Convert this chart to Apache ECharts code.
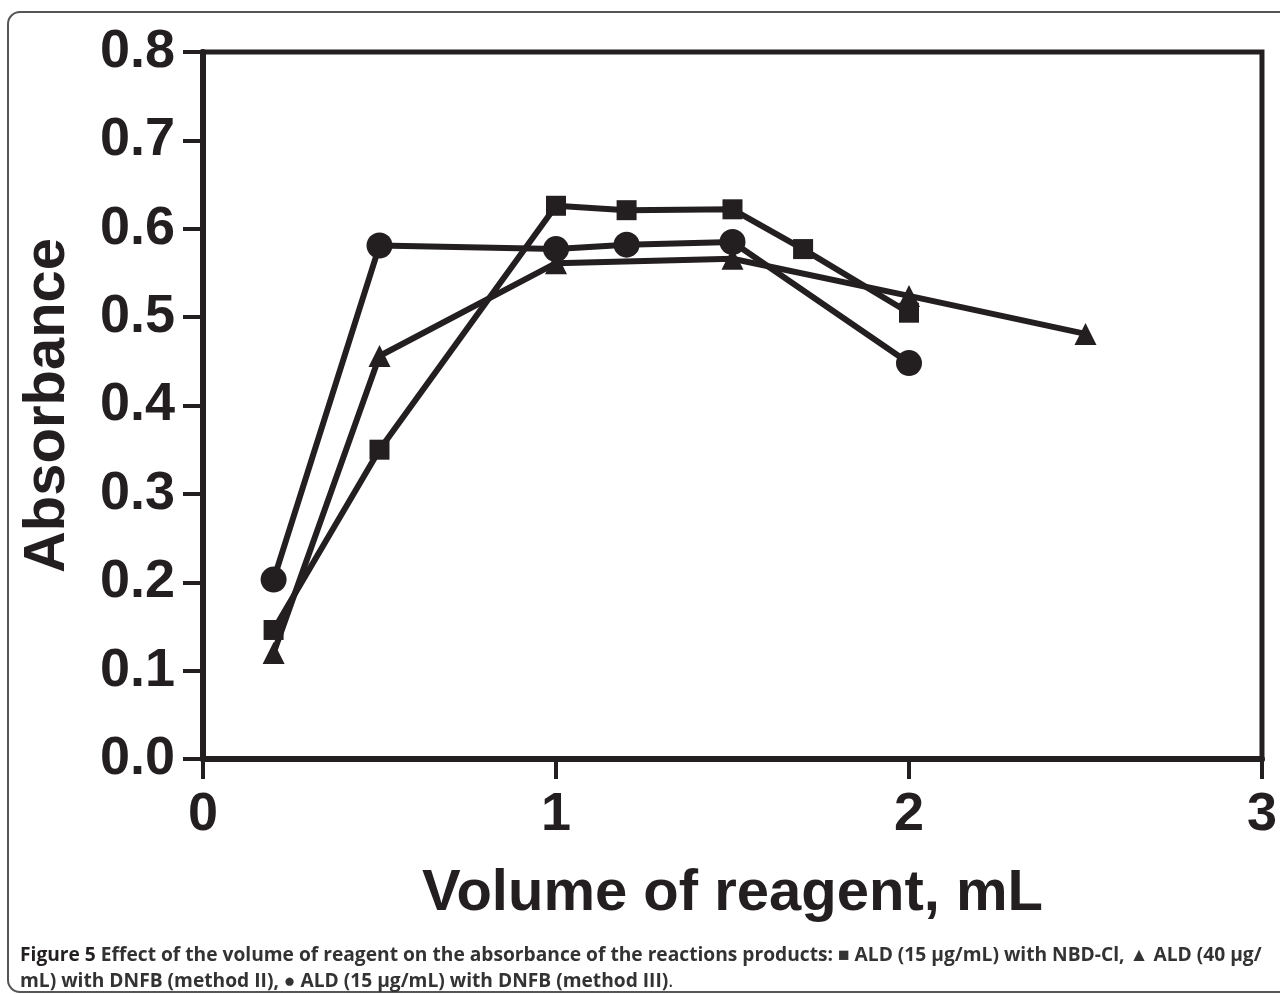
<!DOCTYPE html>
<html>
<head>
<meta charset="utf-8">
<script src="https://cdn.jsdelivr.net/npm/echarts@6/dist/echarts.min.js"></script>
<style>
html,body{margin:0;padding:0;background:#fff;}
#chart{width:1280px;height:994px;}
</style>
</head>
<body>
<div id="chart"></div>
<script>
// ---- data ----
const xTicks = [0, 1, 2, 3];
const yTicks = [0.0, 0.1, 0.2, 0.3, 0.4, 0.5, 0.6, 0.7, 0.8];

// ALD (15 µg/mL) with NBD-Cl  (squares)
const nbdX = [0.2, 0.5, 1.0, 1.2, 1.5, 1.7, 2.0];
const nbdY = [0.146, 0.350, 0.626, 0.621, 0.622, 0.577, 0.505];

// ALD (40 µg/mL) with DNFB method II (triangles)
const dnfb2X = [0.2, 0.5, 1.0, 1.5, 2.0, 2.5];
const dnfb2Y = [0.120, 0.456, 0.561, 0.566, 0.524, 0.481];

// ALD (15 µg/mL) with DNFB method III (circles)
const dnfb3X = [0.2, 0.5, 1.0, 1.2, 1.5, 2.0];
const dnfb3Y = [0.203, 0.581, 0.577, 0.582, 0.585, 0.448];

const xTitle = 'Volume of reagent, mL';
const yTitle = 'Absorbance';
const captionBold = 'Figure 5';
const captionLine1 = 'Effect of the volume of reagent on the absorbance of the reactions products: \u25A0 ALD (15 \u00B5g/mL) with NBD-Cl, \u25B2 ALD (40 \u00B5g/';
const captionLine2 = 'mL) with DNFB (method II), \u25CF ALD (15 \u00B5g/mL) with DNFB (method III)';

const ink = '#231f20';
const zip = (xs, ys) => xs.map((x, i) => [x, ys[i]]);

const chart = echarts.init(document.getElementById('chart'), null, {renderer: 'canvas'});

function mkSeries(name, data, symbol, size) {
  return {
    name: name,
    type: 'line',
    data: data,
    symbol: symbol,
    symbolSize: size,
    showAllSymbol: true,
    lineStyle: {color: ink, width: 6},
    itemStyle: {color: ink, borderWidth: 0},
    emphasis: {disabled: true},
    animation: false
  };
}

const axisFont = {fontFamily: 'Liberation Sans, Arial, sans-serif', fontWeight: 'bold', color: ink};

chart.setOption({
  backgroundColor: '#ffffff',
  animation: false,
  title: {
    left: 20,
    top: 943,
    padding: 0,
    text: '{b|' + captionBold + '} {n|' + captionLine1 + '}\n{n|' + captionLine2 + '}{p|.}',
    textStyle: {
      rich: {
        b: {fontFamily: 'Open Sans', fontWeight: 'bold', fontSize: 19.2, color: ink, lineHeight: 26},
        n: {fontFamily: 'Open Sans', fontWeight: 'bold', fontSize: 19.2, color: '#333333', lineHeight: 26},
        p: {fontFamily: 'Open Sans', fontWeight: 'normal', fontSize: 19.2, color: '#333333', lineHeight: 26}
      }
    }
  },
  graphic: [{
    type: 'rect',
    shape: {x: 8, y: 12, width: 1290, height: 980, r: 12},
    style: {fill: 'none', stroke: '#555555', lineWidth: 2},
    silent: true,
    z: -1
  }],
  grid: {
    left: 203, right: 18, top: 52, bottom: 235,
    show: true,
    borderColor: ink,
    borderWidth: 5,
    containLabel: false
  },
  xAxis: {
    type: 'value',
    min: xTicks[0],
    max: xTicks[xTicks.length - 1],
    interval: 1,
    name: xTitle,
    nameLocation: 'middle',
    nameGap: 106,
    nameTextStyle: Object.assign({fontSize: 58}, axisFont),
    axisLine: {show: true, onZero: false, lineStyle: {color: ink, width: 6}},
    axisTick: {show: true, length: 20, lineStyle: {color: ink, width: 4}},
    axisLabel: Object.assign({fontSize: 54, margin: 29}, axisFont),
    splitLine: {show: false}
  },
  yAxis: {
    type: 'value',
    min: yTicks[0],
    max: yTicks[yTicks.length - 1],
    interval: 0.1,
    name: yTitle,
    nameLocation: 'middle',
    nameRotate: 90,
    nameGap: 126,
    nameTextStyle: Object.assign({fontSize: 58}, axisFont),
    axisLine: {show: true, onZero: false, lineStyle: {color: ink, width: 6}},
    axisTick: {show: true, length: 20, lineStyle: {color: ink, width: 4}},
    axisLabel: Object.assign({fontSize: 54, margin: 28, formatter: v => v.toFixed(1)}, axisFont),
    splitLine: {show: false}
  },
  series: [
    mkSeries('ALD (15 µg/mL) with DNFB (method III)', zip(dnfb3X, dnfb3Y), 'circle', 26),
    mkSeries('ALD (40 µg/mL) with DNFB (method II)', zip(dnfb2X, dnfb2Y), 'triangle', 22),
    mkSeries('ALD (15 µg/mL) with NBD-Cl', zip(nbdX, nbdY), 'rect', 20)
  ]
});
</script>
</body>
</html>
